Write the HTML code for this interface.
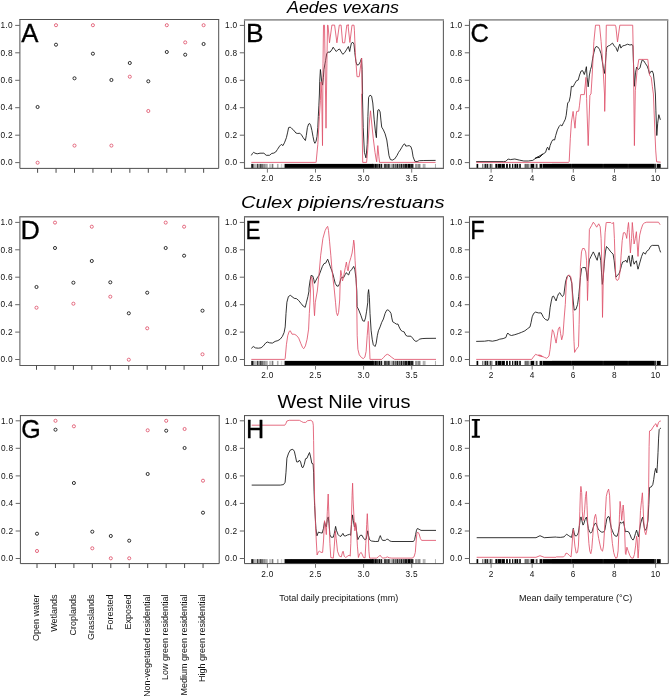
<!DOCTYPE html>
<html><head><meta charset="utf-8"><title>Figure</title>
<style>html,body{margin:0;padding:0;background:#fff;overflow:hidden}svg{display:block;will-change:transform}text{font-family:"Liberation Sans",sans-serif}.tk{letter-spacing:0.3px}</style></head>
<body>
<svg width="669" height="696" viewBox="0 0 669 696">
<rect x="0" y="0" width="669" height="696" fill="#fff"/>
<path d="M19.9,19.5 V168.4 H218.7 V19.5" fill="none" stroke="#505050" stroke-width="1.0"/>
<line x1="19.4" y1="19.5" x2="219.2" y2="19.5" stroke="#505050" stroke-width="1.0"/>
<line x1="15.2" y1="162.6" x2="19.9" y2="162.6" stroke="#666" stroke-width="1"/>
<text x="12.9" y="165.3" class="tk" font-size="8.3" text-anchor="end" fill="#111">0.0</text>
<line x1="15.2" y1="135.2" x2="19.9" y2="135.2" stroke="#666" stroke-width="1"/>
<text x="12.9" y="137.9" class="tk" font-size="8.3" text-anchor="end" fill="#111">0.2</text>
<line x1="15.2" y1="107.7" x2="19.9" y2="107.7" stroke="#666" stroke-width="1"/>
<text x="12.9" y="110.4" class="tk" font-size="8.3" text-anchor="end" fill="#111">0.4</text>
<line x1="15.2" y1="80.3" x2="19.9" y2="80.3" stroke="#666" stroke-width="1"/>
<text x="12.9" y="83.0" class="tk" font-size="8.3" text-anchor="end" fill="#111">0.6</text>
<line x1="15.2" y1="52.8" x2="19.9" y2="52.8" stroke="#666" stroke-width="1"/>
<text x="12.9" y="55.5" class="tk" font-size="8.3" text-anchor="end" fill="#111">0.8</text>
<line x1="15.2" y1="25.4" x2="19.9" y2="25.4" stroke="#666" stroke-width="1"/>
<text x="12.9" y="28.1" class="tk" font-size="8.3" text-anchor="end" fill="#111">1.0</text>
<line x1="37.60" y1="168.4" x2="37.60" y2="172.8" stroke="#4a4a4a" stroke-width="1"/>
<line x1="56.05" y1="168.4" x2="56.05" y2="172.8" stroke="#4a4a4a" stroke-width="1"/>
<line x1="74.50" y1="168.4" x2="74.50" y2="172.8" stroke="#4a4a4a" stroke-width="1"/>
<line x1="92.95" y1="168.4" x2="92.95" y2="172.8" stroke="#4a4a4a" stroke-width="1"/>
<line x1="111.40" y1="168.4" x2="111.40" y2="172.8" stroke="#4a4a4a" stroke-width="1"/>
<line x1="129.85" y1="168.4" x2="129.85" y2="172.8" stroke="#4a4a4a" stroke-width="1"/>
<line x1="148.30" y1="168.4" x2="148.30" y2="172.8" stroke="#4a4a4a" stroke-width="1"/>
<line x1="166.75" y1="168.4" x2="166.75" y2="172.8" stroke="#4a4a4a" stroke-width="1"/>
<line x1="185.20" y1="168.4" x2="185.20" y2="172.8" stroke="#4a4a4a" stroke-width="1"/>
<line x1="203.65" y1="168.4" x2="203.65" y2="172.8" stroke="#4a4a4a" stroke-width="1"/>
<text transform="translate(21.30,41.6) scale(0.98,1)" font-size="26.3" fill="#000" stroke="#000" stroke-width="0.3">A</text>
<rect x="251.29" y="163.9" width="1.64" height="4.5" fill="rgb(0,0,0)"/><rect x="252.93" y="163.9" width="1.64" height="4.5" fill="rgb(120,120,120)"/><rect x="254.58" y="163.9" width="1.97" height="4.5" fill="rgb(185,185,185)"/><rect x="256.88" y="163.9" width="0.99" height="4.5" fill="rgb(20,20,20)"/><rect x="257.87" y="163.9" width="1.97" height="4.5" fill="rgb(150,150,150)"/><rect x="259.84" y="163.9" width="0.99" height="4.5" fill="rgb(20,20,20)"/><rect x="260.83" y="163.9" width="2.30" height="4.5" fill="rgb(110,110,110)"/><rect x="263.13" y="163.9" width="2.63" height="4.5" fill="rgb(140,140,140)"/><rect x="265.76" y="163.9" width="1.97" height="4.5" fill="rgb(170,170,170)"/><rect x="269.05" y="163.9" width="1.64" height="4.5" fill="rgb(200,200,200)"/><rect x="270.70" y="163.9" width="0.46" height="4.5" fill="rgb(150,150,150)"/><rect x="271.55" y="163.9" width="0.46" height="4.5" fill="rgb(170,170,170)"/><rect x="272.01" y="163.9" width="1.32" height="4.5" fill="rgb(120,120,120)"/><rect x="276.95" y="163.9" width="0.99" height="4.5" fill="rgb(170,170,170)"/><rect x="278.26" y="163.9" width="0.66" height="4.5" fill="rgb(190,190,190)"/><rect x="280.89" y="163.9" width="0.53" height="4.5" fill="rgb(170,170,170)"/><rect x="281.68" y="163.9" width="0.53" height="4.5" fill="rgb(190,190,190)"/><rect x="283.86" y="163.9" width="0.99" height="4.5" fill="rgb(150,150,150)"/><rect x="284.84" y="163.9" width="7.17" height="4.5" fill="rgb(0,0,0)"/><rect x="291.9" y="163.9" width="81" height="4.5" fill="#000"/><rect x="372.00" y="163.9" width="1.94" height="4.5" fill="rgb(0,0,0)"/><rect x="374.26" y="163.9" width="2.58" height="4.5" fill="rgb(0,0,0)"/><rect x="377.17" y="163.9" width="1.51" height="4.5" fill="rgb(10,10,10)"/><rect x="379.00" y="163.9" width="1.40" height="4.5" fill="rgb(0,0,0)"/><rect x="380.72" y="163.9" width="1.51" height="4.5" fill="rgb(20,20,20)"/><rect x="383.84" y="163.9" width="2.15" height="4.5" fill="rgb(60,60,60)"/><rect x="386.32" y="163.9" width="1.29" height="4.5" fill="rgb(20,20,20)"/><rect x="387.93" y="163.9" width="1.83" height="4.5" fill="rgb(50,50,50)"/><rect x="390.30" y="163.9" width="1.94" height="4.5" fill="rgb(170,170,170)"/><rect x="392.45" y="163.9" width="1.61" height="4.5" fill="rgb(70,70,70)"/><rect x="394.39" y="163.9" width="2.37" height="4.5" fill="rgb(90,90,90)"/><rect x="396.97" y="163.9" width="1.40" height="4.5" fill="rgb(30,30,30)"/><rect x="398.70" y="163.9" width="1.51" height="4.5" fill="rgb(70,70,70)"/><rect x="400.53" y="163.9" width="1.61" height="4.5" fill="rgb(20,20,20)"/><rect x="402.46" y="163.9" width="1.61" height="4.5" fill="rgb(60,60,60)"/><rect x="404.29" y="163.9" width="3.23" height="4.5" fill="rgb(20,20,20)"/><rect x="407.74" y="163.9" width="3.01" height="4.5" fill="rgb(0,0,0)"/><rect x="410.97" y="163.9" width="2.48" height="4.5" fill="rgb(30,30,30)"/><rect x="415.06" y="163.9" width="2.69" height="4.5" fill="rgb(150,150,150)"/><rect x="418.07" y="163.9" width="2.37" height="4.5" fill="rgb(130,130,130)"/><rect x="422.81" y="163.9" width="0.86" height="4.5" fill="rgb(140,140,140)"/><rect x="424.31" y="163.9" width="1.08" height="4.5" fill="rgb(150,150,150)"/><rect x="434.97" y="163.9" width="0.75" height="4.5" fill="rgb(150,150,150)"/>
<path d="M251.3,155.4 L252.5,153.4 L253.6,152.3 L255.0,153.2 L257.2,153.8 L260.0,153.2 L263.9,153.2 L266.2,155.3 L269.5,155.3 L271.8,153.4 L273.8,153.1 L275.7,152.0 L277.4,149.5 L279.6,146.1 L281.3,144.4 L283.0,145.6 L284.7,142.2 L286.4,137.7 L287.7,132.1 L288.6,127.6 L290.3,127.1 L292.0,128.8 L293.6,130.1 L295.9,133.0 L297.8,133.5 L299.8,133.2 L301.5,134.9 L303.2,137.7 L304.9,140.0 L305.4,140.5 L306.3,135.5 L307.4,127.6 L308.6,124.0 L309.6,123.4 L310.7,125.4 L311.9,130.4 L313.0,136.6 L314.1,141.7 L314.9,143.3 L316.1,141.1 L317.0,136.6 L317.8,127.6 L318.3,116.4 L318.9,105.2 L319.4,94.0 L319.7,81.8 L320.4,69.5 L321.0,75.0 L321.7,81.8 L322.6,85.1 L323.4,77.3 L323.9,69.5 L325.6,60.5 L326.7,53.8 L327.9,52.1 L330.1,52.1 L331.8,49.8 L333.2,47.2 L334.6,49.3 L336.3,51.5 L337.9,49.8 L339.6,49.0 L341.3,52.1 L342.8,54.3 L344.7,52.6 L346.4,49.8 L348.4,46.5 L349.7,51.5 L350.3,48.1 L351.4,43.1 L352.9,42.3 L354.0,44.2 L354.8,52.6 L355.9,61.6 L357.0,65.0 L358.7,64.7 L360.4,61.6 L361.5,58.2 L362.1,69.5 L362.6,94.0 L362.4,94.0 L363.2,127.6 L364.4,152.3 L366.0,157.9 L367.2,144.4 L367.9,116.4 L368.6,97.4 L370.0,95.1 L371.6,96.2 L372.8,103.0 L374.2,119.8 L375.6,133.2 L376.4,137.7 L377.0,122.0 L377.8,110.3 L378.9,109.5 L380.1,111.9 L381.0,120.9 L381.7,127.1 L383.4,129.9 L385.1,133.8 L386.8,140.0 L387.9,147.8 L389.0,155.7 L390.4,159.6 L392.4,160.1 L394.6,159.0 L396.9,155.7 L398.6,152.3 L400.2,150.1 L401.9,147.2 L403.6,144.4 L404.7,143.9 L405.8,146.1 L407.5,145.9 L409.2,145.6 L410.9,146.7 L412.0,150.1 L413.1,156.8 L414.8,161.3 L417.1,161.6 L419.3,160.7 L423.8,160.5 L435.6,160.4" fill="none" stroke="#111" stroke-width="0.85" stroke-linejoin="round" stroke-linecap="butt"/>
<path d="M251.3,162.4 L315.5,162.4 L316.1,162.4 L317.8,144.4 L319.4,116.4 L320.4,100.7 L321.0,81.8 L321.7,94.0 L322.5,145.6 L323.0,63.8 L323.5,25.2 L324.5,25.2 L325.1,63.8 L326.0,128.2 L326.9,63.8 L327.5,25.2 L328.0,25.1 L329.5,42.8 L331.9,25.1 L334.6,25.1 L336.9,42.8 L339.3,25.1 L341.1,25.1 L342.6,42.8 L344.7,42.8 L346.8,25.1 L348.9,25.1 L348.0,25.2 L349.9,42.5 L352.0,25.2 L354.0,25.2 L354.4,30.2 L355.3,52.6 L357.0,76.7 L359.2,76.7 L360.9,63.8 L361.7,58.2 L362.1,94.0 L361.6,94.0 L362.7,162.4 L366.6,162.4 L367.7,150.1 L369.4,122.0 L370.5,110.8 L371.6,122.0 L373.3,138.8 L375.0,152.3 L376.1,159.0 L376.7,161.8 L377.8,145.6 L378.9,156.8 L379.5,162.4 L435.6,162.4" fill="none" stroke="#df536b" stroke-width="0.85" stroke-linejoin="round" stroke-linecap="butt"/>
<path d="M244.5,19.8 V168.4 H443.4 V19.8" fill="none" stroke="#606060" stroke-width="1.1"/>
<line x1="243.95" y1="19.8" x2="443.95" y2="19.8" stroke="#989898" stroke-width="1.8"/>
<line x1="239.8" y1="162.6" x2="244.5" y2="162.6" stroke="#666" stroke-width="1"/>
<text x="237.5" y="165.3" class="tk" font-size="8.3" text-anchor="end" fill="#111">0.0</text>
<line x1="239.8" y1="135.2" x2="244.5" y2="135.2" stroke="#666" stroke-width="1"/>
<text x="237.5" y="137.9" class="tk" font-size="8.3" text-anchor="end" fill="#111">0.2</text>
<line x1="239.8" y1="107.7" x2="244.5" y2="107.7" stroke="#666" stroke-width="1"/>
<text x="237.5" y="110.4" class="tk" font-size="8.3" text-anchor="end" fill="#111">0.4</text>
<line x1="239.8" y1="80.3" x2="244.5" y2="80.3" stroke="#666" stroke-width="1"/>
<text x="237.5" y="83.0" class="tk" font-size="8.3" text-anchor="end" fill="#111">0.6</text>
<line x1="239.8" y1="52.8" x2="244.5" y2="52.8" stroke="#666" stroke-width="1"/>
<text x="237.5" y="55.5" class="tk" font-size="8.3" text-anchor="end" fill="#111">0.8</text>
<line x1="239.8" y1="25.4" x2="244.5" y2="25.4" stroke="#666" stroke-width="1"/>
<text x="237.5" y="28.1" class="tk" font-size="8.3" text-anchor="end" fill="#111">1.0</text>
<line x1="267.4" y1="168.4" x2="267.4" y2="172.6" stroke="#777" stroke-width="1"/>
<text x="267.4" y="181.3" class="tk" font-size="8.3" text-anchor="middle" fill="#111">2.0</text>
<line x1="315.5" y1="168.4" x2="315.5" y2="172.6" stroke="#777" stroke-width="1"/>
<text x="315.5" y="181.3" class="tk" font-size="8.3" text-anchor="middle" fill="#111">2.5</text>
<line x1="363.6" y1="168.4" x2="363.6" y2="172.6" stroke="#777" stroke-width="1"/>
<text x="363.6" y="181.3" class="tk" font-size="8.3" text-anchor="middle" fill="#111">3.0</text>
<line x1="411.7" y1="168.4" x2="411.7" y2="172.6" stroke="#777" stroke-width="1"/>
<text x="411.7" y="181.3" class="tk" font-size="8.3" text-anchor="middle" fill="#111">3.5</text>
<text transform="translate(245.90,41.6) scale(1.0,1)" font-size="26.3" fill="#000" stroke="#000" stroke-width="0.3">B</text>
<rect x="476.55" y="163.9" width="1.67" height="4.5" fill="rgb(0,0,0)"/><rect x="482.17" y="163.9" width="1.20" height="4.5" fill="rgb(100,100,100)"/><rect x="483.36" y="163.9" width="1.20" height="4.5" fill="rgb(200,200,200)"/><rect x="484.56" y="163.9" width="1.56" height="4.5" fill="rgb(30,30,30)"/><rect x="486.11" y="163.9" width="0.48" height="4.5" fill="rgb(150,150,150)"/><rect x="486.59" y="163.9" width="1.56" height="4.5" fill="rgb(30,30,30)"/><rect x="488.15" y="163.9" width="1.79" height="4.5" fill="rgb(185,185,185)"/><rect x="489.94" y="163.9" width="0.96" height="4.5" fill="rgb(40,40,40)"/><rect x="490.90" y="163.9" width="0.60" height="4.5" fill="rgb(150,150,150)"/><rect x="491.50" y="163.9" width="0.84" height="4.5" fill="rgb(60,60,60)"/><rect x="495.33" y="163.9" width="2.15" height="4.5" fill="rgb(0,0,0)"/><rect x="497.48" y="163.9" width="0.48" height="4.5" fill="rgb(120,120,120)"/><rect x="497.96" y="163.9" width="3.11" height="4.5" fill="rgb(0,0,0)"/><rect x="501.07" y="163.9" width="0.48" height="4.5" fill="rgb(120,120,120)"/><rect x="501.55" y="163.9" width="3.35" height="4.5" fill="rgb(0,0,0)"/><rect x="506.09" y="163.9" width="1.79" height="4.5" fill="rgb(0,0,0)"/><rect x="509.08" y="163.9" width="1.44" height="4.5" fill="rgb(0,0,0)"/><rect x="512.07" y="163.9" width="1.20" height="4.5" fill="rgb(0,0,0)"/><rect x="514.46" y="163.9" width="1.56" height="4.5" fill="rgb(0,0,0)"/><rect x="516.02" y="163.9" width="0.48" height="4.5" fill="rgb(130,130,130)"/><rect x="516.50" y="163.9" width="1.56" height="4.5" fill="rgb(0,0,0)"/><rect x="518.05" y="163.9" width="1.20" height="4.5" fill="rgb(200,200,200)"/><rect x="519.25" y="163.9" width="1.56" height="4.5" fill="rgb(0,0,0)"/><rect x="524.63" y="163.9" width="1.20" height="4.5" fill="rgb(60,60,60)"/><rect x="525.83" y="163.9" width="0.60" height="4.5" fill="rgb(150,150,150)"/><rect x="526.43" y="163.9" width="1.20" height="4.5" fill="rgb(50,50,50)"/><rect x="527.62" y="163.9" width="1.20" height="4.5" fill="rgb(90,90,90)"/><rect x="528.82" y="163.9" width="1.79" height="4.5" fill="rgb(200,200,200)"/><rect x="530.61" y="163.9" width="3.59" height="4.5" fill="rgb(0,0,0)"/><rect x="534.20" y="163.9" width="1.79" height="4.5" fill="rgb(190,190,190)"/><rect x="536.00" y="163.9" width="1.56" height="4.5" fill="rgb(70,70,70)"/><rect x="539.58" y="163.9" width="2.75" height="4.5" fill="rgb(0,0,0)"/><rect x="542.33" y="163.9" width="0.48" height="4.5" fill="rgb(120,120,120)"/><rect x="542.81" y="163.9" width="9.21" height="4.5" fill="rgb(0,0,0)"/><rect x="552" y="163.9" width="104" height="4.5" fill="#2a2a2a"/><rect x="552" y="163.9" width="19.2" height="4.5" fill="#000"/><rect x="571.8" y="163.9" width="31" height="4.5" fill="#000"/><rect x="603.4" y="163.9" width="24.4" height="4.5" fill="#000"/><rect x="628.4" y="163.9" width="25.6" height="4.5" fill="#000"/><rect x="654.4" y="163.9" width="1.8" height="4.5" fill="#333"/><rect x="656.8" y="163.9" width="3.9" height="4.5" fill="#000"/>
<path d="M476.2,161.6 L503.6,161.6 L505.9,161.3 L508.1,159.0 L510.4,159.6 L514.8,159.0 L519.3,160.1 L523.8,161.0 L528.3,161.0 L532.8,160.4 L536.1,157.9 L539.5,157.3 L542.9,154.0 L535.0,158.5 L537.2,157.3 L539.5,157.3 L541.7,155.1 L544.0,153.4 L545.6,152.3 L546.8,148.4 L547.6,147.2 L549.0,150.1 L550.1,145.6 L551.6,141.7 L552.9,139.7 L554.6,140.0 L555.7,135.5 L557.4,129.9 L559.1,126.5 L560.6,124.8 L561.9,126.0 L563.6,122.6 L565.3,119.2 L566.2,115.3 L567.0,108.6 L567.7,103.0 L569.2,101.3 L570.3,96.2 L571.4,86.3 L573.1,86.8 L574.8,83.5 L576.5,80.7 L578.2,80.1 L579.6,75.0 L581.0,71.1 L582.6,70.6 L584.3,74.5 L585.5,70.6 L586.4,66.7 L587.1,77.3 L588.2,86.8 L589.4,75.0 L590.5,69.5 L591.6,66.1 L592.7,58.2 L593.9,52.6 L595.0,48.1 L596.1,46.5 L597.8,47.0 L599.5,49.3 L601.1,53.8 L602.3,61.6 L603.4,68.3 L604.5,73.4 L605.4,63.8 L606.2,52.6 L606.8,47.0 L608.4,45.9 L609.7,45.4 L612.5,43.1 L614.2,45.9 L615.9,47.6 L617.5,51.5 L618.7,47.0 L619.8,44.2 L620.9,48.1 L622.6,45.9 L624.8,45.4 L627.6,44.2 L629.9,45.0 L632.1,44.6 L632.9,45.9 L633.5,63.8 L634.4,86.3 L635.5,72.8 L636.6,67.2 L638.3,69.5 L640.0,67.8 L641.1,63.3 L642.2,59.9 L643.9,61.0 L645.6,63.8 L647.2,66.1 L648.4,69.5 L649.5,73.9 L650.6,71.7 L652.3,71.1 L653.4,73.9 L654.5,84.0 L655.4,94.0 L655.9,110.8 L656.8,135.5 L657.7,123.2 L658.8,114.7 L660.4,119.8" fill="none" stroke="#111" stroke-width="0.85" stroke-linejoin="round" stroke-linecap="butt"/>
<path d="M476.2,162.4 L568.6,162.4 L569.2,161.3 L570.3,138.8 L571.4,122.0 L573.1,111.4 L574.0,119.8 L575.0,128.2 L575.9,116.4 L576.7,111.4 L578.7,111.2 L579.5,105.2 L580.7,94.6 L584.3,94.6 L586.0,77.3 L586.6,98.5 L588.2,145.6 L589.9,95.1 L591.0,94.0 L592.2,75.0 L593.9,41.4 L595.5,25.2 L599.5,25.2 L601.1,41.4 L602.8,63.8 L604.5,94.0 L604.7,111.4 L605.2,94.0 L606.3,25.2 L615.3,25.2 L615.9,26.9 L617.5,42.0 L619.8,25.2 L632.7,25.2 L633.5,63.8 L634.4,145.6 L635.3,90.8 L637.2,69.5 L638.8,59.4 L647.8,59.4 L649.5,75.0 L651.2,77.3 L652.3,86.3 L653.4,94.0 L654.5,122.0 L655.7,150.1 L656.6,161.8 L660.7,162.2" fill="none" stroke="#df536b" stroke-width="0.85" stroke-linejoin="round" stroke-linecap="butt"/>
<path d="M469.5,19.8 V168.4 H667.7 V19.8" fill="none" stroke="#606060" stroke-width="1.1"/>
<line x1="468.95" y1="19.8" x2="668.25" y2="19.8" stroke="#989898" stroke-width="1.8"/>
<line x1="464.8" y1="162.6" x2="469.5" y2="162.6" stroke="#666" stroke-width="1"/>
<text x="462.5" y="165.3" class="tk" font-size="8.3" text-anchor="end" fill="#111">0.0</text>
<line x1="464.8" y1="135.2" x2="469.5" y2="135.2" stroke="#666" stroke-width="1"/>
<text x="462.5" y="137.9" class="tk" font-size="8.3" text-anchor="end" fill="#111">0.2</text>
<line x1="464.8" y1="107.7" x2="469.5" y2="107.7" stroke="#666" stroke-width="1"/>
<text x="462.5" y="110.4" class="tk" font-size="8.3" text-anchor="end" fill="#111">0.4</text>
<line x1="464.8" y1="80.3" x2="469.5" y2="80.3" stroke="#666" stroke-width="1"/>
<text x="462.5" y="83.0" class="tk" font-size="8.3" text-anchor="end" fill="#111">0.6</text>
<line x1="464.8" y1="52.8" x2="469.5" y2="52.8" stroke="#666" stroke-width="1"/>
<text x="462.5" y="55.5" class="tk" font-size="8.3" text-anchor="end" fill="#111">0.8</text>
<line x1="464.8" y1="25.4" x2="469.5" y2="25.4" stroke="#666" stroke-width="1"/>
<text x="462.5" y="28.1" class="tk" font-size="8.3" text-anchor="end" fill="#111">1.0</text>
<line x1="491.1" y1="168.4" x2="491.1" y2="172.6" stroke="#777" stroke-width="1"/>
<text x="491.1" y="181.3" class="tk" font-size="8.3" text-anchor="middle" fill="#111">2</text>
<line x1="532.2" y1="168.4" x2="532.2" y2="172.6" stroke="#777" stroke-width="1"/>
<text x="532.2" y="181.3" class="tk" font-size="8.3" text-anchor="middle" fill="#111">4</text>
<line x1="573.3" y1="168.4" x2="573.3" y2="172.6" stroke="#777" stroke-width="1"/>
<text x="573.3" y="181.3" class="tk" font-size="8.3" text-anchor="middle" fill="#111">6</text>
<line x1="614.5" y1="168.4" x2="614.5" y2="172.6" stroke="#777" stroke-width="1"/>
<text x="614.5" y="181.3" class="tk" font-size="8.3" text-anchor="middle" fill="#111">8</text>
<line x1="655.6" y1="168.4" x2="655.6" y2="172.6" stroke="#777" stroke-width="1"/>
<text x="655.6" y="181.3" class="tk" font-size="8.3" text-anchor="middle" fill="#111">10</text>
<text transform="translate(470.50,41.6) scale(0.97,1)" font-size="26.3" fill="#000" stroke="#000" stroke-width="0.3">C</text>
<path d="M19.9,216.7 V365.4 H218.7 V216.7" fill="none" stroke="#5a5a5a" stroke-width="1.05"/>
<line x1="19.375" y1="216.7" x2="219.225" y2="216.7" stroke="#777" stroke-width="1.35"/>
<line x1="15.2" y1="359.5" x2="19.9" y2="359.5" stroke="#666" stroke-width="1"/>
<text x="12.9" y="362.2" class="tk" font-size="8.3" text-anchor="end" fill="#111">0.0</text>
<line x1="15.2" y1="332.1" x2="19.9" y2="332.1" stroke="#666" stroke-width="1"/>
<text x="12.9" y="334.8" class="tk" font-size="8.3" text-anchor="end" fill="#111">0.2</text>
<line x1="15.2" y1="304.7" x2="19.9" y2="304.7" stroke="#666" stroke-width="1"/>
<text x="12.9" y="307.4" class="tk" font-size="8.3" text-anchor="end" fill="#111">0.4</text>
<line x1="15.2" y1="277.2" x2="19.9" y2="277.2" stroke="#666" stroke-width="1"/>
<text x="12.9" y="279.9" class="tk" font-size="8.3" text-anchor="end" fill="#111">0.6</text>
<line x1="15.2" y1="249.8" x2="19.9" y2="249.8" stroke="#666" stroke-width="1"/>
<text x="12.9" y="252.5" class="tk" font-size="8.3" text-anchor="end" fill="#111">0.8</text>
<line x1="15.2" y1="222.4" x2="19.9" y2="222.4" stroke="#666" stroke-width="1"/>
<text x="12.9" y="225.1" class="tk" font-size="8.3" text-anchor="end" fill="#111">1.0</text>
<line x1="36.50" y1="365.4" x2="36.50" y2="369.79999999999995" stroke="#4a4a4a" stroke-width="1"/>
<line x1="54.95" y1="365.4" x2="54.95" y2="369.79999999999995" stroke="#4a4a4a" stroke-width="1"/>
<line x1="73.40" y1="365.4" x2="73.40" y2="369.79999999999995" stroke="#4a4a4a" stroke-width="1"/>
<line x1="91.85" y1="365.4" x2="91.85" y2="369.79999999999995" stroke="#4a4a4a" stroke-width="1"/>
<line x1="110.30" y1="365.4" x2="110.30" y2="369.79999999999995" stroke="#4a4a4a" stroke-width="1"/>
<line x1="128.75" y1="365.4" x2="128.75" y2="369.79999999999995" stroke="#4a4a4a" stroke-width="1"/>
<line x1="147.20" y1="365.4" x2="147.20" y2="369.79999999999995" stroke="#4a4a4a" stroke-width="1"/>
<line x1="165.65" y1="365.4" x2="165.65" y2="369.79999999999995" stroke="#4a4a4a" stroke-width="1"/>
<line x1="184.10" y1="365.4" x2="184.10" y2="369.79999999999995" stroke="#4a4a4a" stroke-width="1"/>
<line x1="202.55" y1="365.4" x2="202.55" y2="369.79999999999995" stroke="#4a4a4a" stroke-width="1"/>
<text transform="translate(20.40,238.7) scale(1.02,1)" font-size="26.3" fill="#000" stroke="#000" stroke-width="0.3">D</text>
<rect x="251.29" y="360.9" width="1.64" height="4.5" fill="rgb(0,0,0)"/><rect x="252.93" y="360.9" width="1.64" height="4.5" fill="rgb(120,120,120)"/><rect x="254.58" y="360.9" width="1.97" height="4.5" fill="rgb(185,185,185)"/><rect x="256.88" y="360.9" width="0.99" height="4.5" fill="rgb(20,20,20)"/><rect x="257.87" y="360.9" width="1.97" height="4.5" fill="rgb(150,150,150)"/><rect x="259.84" y="360.9" width="0.99" height="4.5" fill="rgb(20,20,20)"/><rect x="260.83" y="360.9" width="2.30" height="4.5" fill="rgb(110,110,110)"/><rect x="263.13" y="360.9" width="2.63" height="4.5" fill="rgb(140,140,140)"/><rect x="265.76" y="360.9" width="1.97" height="4.5" fill="rgb(170,170,170)"/><rect x="269.05" y="360.9" width="1.64" height="4.5" fill="rgb(200,200,200)"/><rect x="270.70" y="360.9" width="0.46" height="4.5" fill="rgb(150,150,150)"/><rect x="271.55" y="360.9" width="0.46" height="4.5" fill="rgb(170,170,170)"/><rect x="272.01" y="360.9" width="1.32" height="4.5" fill="rgb(120,120,120)"/><rect x="276.95" y="360.9" width="0.99" height="4.5" fill="rgb(170,170,170)"/><rect x="278.26" y="360.9" width="0.66" height="4.5" fill="rgb(190,190,190)"/><rect x="280.89" y="360.9" width="0.53" height="4.5" fill="rgb(170,170,170)"/><rect x="281.68" y="360.9" width="0.53" height="4.5" fill="rgb(190,190,190)"/><rect x="283.86" y="360.9" width="0.99" height="4.5" fill="rgb(150,150,150)"/><rect x="284.84" y="360.9" width="7.17" height="4.5" fill="rgb(0,0,0)"/><rect x="291.9" y="360.9" width="81" height="4.5" fill="#000"/><rect x="372.00" y="360.9" width="1.94" height="4.5" fill="rgb(0,0,0)"/><rect x="374.26" y="360.9" width="2.58" height="4.5" fill="rgb(0,0,0)"/><rect x="377.17" y="360.9" width="1.51" height="4.5" fill="rgb(10,10,10)"/><rect x="379.00" y="360.9" width="1.40" height="4.5" fill="rgb(0,0,0)"/><rect x="380.72" y="360.9" width="1.51" height="4.5" fill="rgb(20,20,20)"/><rect x="383.84" y="360.9" width="2.15" height="4.5" fill="rgb(60,60,60)"/><rect x="386.32" y="360.9" width="1.29" height="4.5" fill="rgb(20,20,20)"/><rect x="387.93" y="360.9" width="1.83" height="4.5" fill="rgb(50,50,50)"/><rect x="390.30" y="360.9" width="1.94" height="4.5" fill="rgb(170,170,170)"/><rect x="392.45" y="360.9" width="1.61" height="4.5" fill="rgb(70,70,70)"/><rect x="394.39" y="360.9" width="2.37" height="4.5" fill="rgb(90,90,90)"/><rect x="396.97" y="360.9" width="1.40" height="4.5" fill="rgb(30,30,30)"/><rect x="398.70" y="360.9" width="1.51" height="4.5" fill="rgb(70,70,70)"/><rect x="400.53" y="360.9" width="1.61" height="4.5" fill="rgb(20,20,20)"/><rect x="402.46" y="360.9" width="1.61" height="4.5" fill="rgb(60,60,60)"/><rect x="404.29" y="360.9" width="3.23" height="4.5" fill="rgb(20,20,20)"/><rect x="407.74" y="360.9" width="3.01" height="4.5" fill="rgb(0,0,0)"/><rect x="410.97" y="360.9" width="2.48" height="4.5" fill="rgb(30,30,30)"/><rect x="415.06" y="360.9" width="2.69" height="4.5" fill="rgb(150,150,150)"/><rect x="418.07" y="360.9" width="2.37" height="4.5" fill="rgb(130,130,130)"/><rect x="422.81" y="360.9" width="0.86" height="4.5" fill="rgb(140,140,140)"/><rect x="424.31" y="360.9" width="1.08" height="4.5" fill="rgb(150,150,150)"/><rect x="434.97" y="360.9" width="0.75" height="4.5" fill="rgb(150,150,150)"/>
<path d="M251.3,348.4 L253.3,346.5 L255.5,347.9 L258.3,348.2 L261.1,347.8 L263.4,345.9 L265.6,343.1 L267.3,342.0 L269.5,342.8 L272.4,343.1 L275.1,341.4 L277.9,340.6 L280.2,339.2 L282.4,336.4 L284.1,332.5 L285.2,326.9 L286.0,313.4 L286.9,302.2 L288.4,296.6 L290.3,295.3 L292.0,296.6 L294.2,298.3 L296.4,298.6 L298.7,300.5 L300.9,303.3 L303.2,306.1 L305.2,307.3 L306.5,302.2 L307.9,296.6 L309.0,291.0 L308.9,288.9 L310.0,281.0 L311.1,275.4 L312.8,276.0 L313.9,279.9 L314.5,283.3 L315.6,281.0 L317.3,277.7 L319.0,275.4 L320.7,270.9 L322.4,266.4 L324.0,263.6 L325.7,263.1 L326.8,260.8 L327.7,259.2 L328.7,262.0 L330.2,266.4 L331.9,270.9 L333.0,274.3 L334.1,278.8 L335.2,283.3 L336.9,286.1 L338.4,286.1 L339.7,283.3 L340.8,278.8 L342.0,277.1 L343.6,277.7 L345.3,274.3 L346.4,272.6 L347.6,274.3 L348.7,274.9 L349.8,271.5 L351.5,269.8 L352.6,268.1 L353.7,266.4 L354.9,269.8 L356.0,278.8 L356.8,291.0 L357.1,306.7 L358.8,310.1 L361.0,315.7 L362.7,320.7 L364.4,321.3 L365.5,317.9 L366.6,311.2 L367.8,302.2 L367.9,294.4 L368.6,289.6 L369.4,297.7 L370.0,313.4 L371.1,330.2 L372.2,339.2 L373.3,344.8 L375.0,346.5 L376.1,343.7 L377.3,335.8 L378.4,330.8 L380.1,326.9 L381.7,322.4 L383.4,319.0 L385.1,313.4 L386.6,310.3 L387.9,309.8 L389.6,311.2 L391.0,313.4 L391.8,317.9 L392.7,321.8 L394.6,322.9 L396.3,324.1 L398.0,324.1 L399.1,326.9 L400.8,330.2 L402.5,331.4 L404.2,331.9 L405.8,335.3 L407.5,336.2 L410.9,336.2 L412.6,338.1 L414.2,340.3 L415.9,341.4 L417.6,340.9 L419.3,339.2 L422.1,338.6 L426.0,338.4 L436.0,338.3" fill="none" stroke="#111" stroke-width="0.85" stroke-linejoin="round" stroke-linecap="butt"/>
<path d="M251.3,359.4 L284.7,359.4 L285.2,358.3 L286.4,344.8 L287.7,335.8 L289.2,331.4 L290.3,330.8 L292.0,334.2 L294.2,334.2 L296.4,335.3 L298.7,338.1 L300.9,343.7 L302.6,347.6 L303.7,348.7 L305.4,345.9 L307.1,339.2 L308.6,329.1 L309.3,313.4 L310.1,300.0 L311.1,276.5 L312.3,278.8 L313.4,291.0 L313.7,302.2 L314.5,315.7 L315.3,302.2 L317.3,291.0 L319.0,274.3 L320.7,255.2 L322.9,238.4 L325.1,230.6 L326.8,227.2 L327.7,226.4 L328.5,230.6 L329.6,241.8 L330.8,255.2 L331.9,268.7 L333.0,278.8 L334.1,287.8 L335.5,302.2 L336.4,312.3 L337.5,315.7 L338.6,312.3 L339.7,300.0 L340.3,277.7 L340.8,270.4 L341.7,275.4 L342.5,281.0 L343.6,276.5 L345.3,267.6 L346.4,262.0 L347.4,268.7 L348.1,270.9 L349.2,263.1 L350.9,257.5 L352.1,253.0 L353.2,245.2 L353.7,240.1 L354.3,244.0 L355.1,260.8 L356.0,274.3 L356.5,291.0 L356.8,307.8 L357.2,335.8 L357.9,349.3 L359.3,354.9 L361.6,357.7 L363.3,358.6 L364.9,357.1 L366.1,351.5 L367.2,335.8 L368.3,321.3 L369.1,335.8 L370.0,359.4 L370.5,359.4 L381.7,359.4 L383.4,357.7 L385.7,355.1 L387.4,354.3 L389.0,355.1 L391.8,357.4 L394.6,359.4 L436.0,359.4" fill="none" stroke="#df536b" stroke-width="0.85" stroke-linejoin="round" stroke-linecap="butt"/>
<path d="M244.5,216.7 V365.4 H443.4 V216.7" fill="none" stroke="#5a5a5a" stroke-width="1.05"/>
<line x1="243.975" y1="216.7" x2="443.92499999999995" y2="216.7" stroke="#777" stroke-width="1.35"/>
<line x1="239.8" y1="359.5" x2="244.5" y2="359.5" stroke="#666" stroke-width="1"/>
<text x="237.5" y="362.2" class="tk" font-size="8.3" text-anchor="end" fill="#111">0.0</text>
<line x1="239.8" y1="332.1" x2="244.5" y2="332.1" stroke="#666" stroke-width="1"/>
<text x="237.5" y="334.8" class="tk" font-size="8.3" text-anchor="end" fill="#111">0.2</text>
<line x1="239.8" y1="304.7" x2="244.5" y2="304.7" stroke="#666" stroke-width="1"/>
<text x="237.5" y="307.4" class="tk" font-size="8.3" text-anchor="end" fill="#111">0.4</text>
<line x1="239.8" y1="277.2" x2="244.5" y2="277.2" stroke="#666" stroke-width="1"/>
<text x="237.5" y="279.9" class="tk" font-size="8.3" text-anchor="end" fill="#111">0.6</text>
<line x1="239.8" y1="249.8" x2="244.5" y2="249.8" stroke="#666" stroke-width="1"/>
<text x="237.5" y="252.5" class="tk" font-size="8.3" text-anchor="end" fill="#111">0.8</text>
<line x1="239.8" y1="222.4" x2="244.5" y2="222.4" stroke="#666" stroke-width="1"/>
<text x="237.5" y="225.1" class="tk" font-size="8.3" text-anchor="end" fill="#111">1.0</text>
<line x1="267.4" y1="365.4" x2="267.4" y2="369.59999999999997" stroke="#777" stroke-width="1"/>
<text x="267.4" y="378.3" class="tk" font-size="8.3" text-anchor="middle" fill="#111">2.0</text>
<line x1="315.5" y1="365.4" x2="315.5" y2="369.59999999999997" stroke="#777" stroke-width="1"/>
<text x="315.5" y="378.3" class="tk" font-size="8.3" text-anchor="middle" fill="#111">2.5</text>
<line x1="363.6" y1="365.4" x2="363.6" y2="369.59999999999997" stroke="#777" stroke-width="1"/>
<text x="363.6" y="378.3" class="tk" font-size="8.3" text-anchor="middle" fill="#111">3.0</text>
<line x1="411.7" y1="365.4" x2="411.7" y2="369.59999999999997" stroke="#777" stroke-width="1"/>
<text x="411.7" y="378.3" class="tk" font-size="8.3" text-anchor="middle" fill="#111">3.5</text>
<text transform="translate(245.55,238.7) scale(0.86,1)" font-size="26.3" fill="#000" stroke="#000" stroke-width="0.3">E</text>
<rect x="476.55" y="360.9" width="1.67" height="4.5" fill="rgb(0,0,0)"/><rect x="482.17" y="360.9" width="1.20" height="4.5" fill="rgb(100,100,100)"/><rect x="483.36" y="360.9" width="1.20" height="4.5" fill="rgb(200,200,200)"/><rect x="484.56" y="360.9" width="1.56" height="4.5" fill="rgb(30,30,30)"/><rect x="486.11" y="360.9" width="0.48" height="4.5" fill="rgb(150,150,150)"/><rect x="486.59" y="360.9" width="1.56" height="4.5" fill="rgb(30,30,30)"/><rect x="488.15" y="360.9" width="1.79" height="4.5" fill="rgb(185,185,185)"/><rect x="489.94" y="360.9" width="0.96" height="4.5" fill="rgb(40,40,40)"/><rect x="490.90" y="360.9" width="0.60" height="4.5" fill="rgb(150,150,150)"/><rect x="491.50" y="360.9" width="0.84" height="4.5" fill="rgb(60,60,60)"/><rect x="495.33" y="360.9" width="2.15" height="4.5" fill="rgb(0,0,0)"/><rect x="497.48" y="360.9" width="0.48" height="4.5" fill="rgb(120,120,120)"/><rect x="497.96" y="360.9" width="3.11" height="4.5" fill="rgb(0,0,0)"/><rect x="501.07" y="360.9" width="0.48" height="4.5" fill="rgb(120,120,120)"/><rect x="501.55" y="360.9" width="3.35" height="4.5" fill="rgb(0,0,0)"/><rect x="506.09" y="360.9" width="1.79" height="4.5" fill="rgb(0,0,0)"/><rect x="509.08" y="360.9" width="1.44" height="4.5" fill="rgb(0,0,0)"/><rect x="512.07" y="360.9" width="1.20" height="4.5" fill="rgb(0,0,0)"/><rect x="514.46" y="360.9" width="1.56" height="4.5" fill="rgb(0,0,0)"/><rect x="516.02" y="360.9" width="0.48" height="4.5" fill="rgb(130,130,130)"/><rect x="516.50" y="360.9" width="1.56" height="4.5" fill="rgb(0,0,0)"/><rect x="518.05" y="360.9" width="1.20" height="4.5" fill="rgb(200,200,200)"/><rect x="519.25" y="360.9" width="1.56" height="4.5" fill="rgb(0,0,0)"/><rect x="524.63" y="360.9" width="1.20" height="4.5" fill="rgb(60,60,60)"/><rect x="525.83" y="360.9" width="0.60" height="4.5" fill="rgb(150,150,150)"/><rect x="526.43" y="360.9" width="1.20" height="4.5" fill="rgb(50,50,50)"/><rect x="527.62" y="360.9" width="1.20" height="4.5" fill="rgb(90,90,90)"/><rect x="528.82" y="360.9" width="1.79" height="4.5" fill="rgb(200,200,200)"/><rect x="530.61" y="360.9" width="3.59" height="4.5" fill="rgb(0,0,0)"/><rect x="534.20" y="360.9" width="1.79" height="4.5" fill="rgb(190,190,190)"/><rect x="536.00" y="360.9" width="1.56" height="4.5" fill="rgb(70,70,70)"/><rect x="539.58" y="360.9" width="2.75" height="4.5" fill="rgb(0,0,0)"/><rect x="542.33" y="360.9" width="0.48" height="4.5" fill="rgb(120,120,120)"/><rect x="542.81" y="360.9" width="9.21" height="4.5" fill="rgb(0,0,0)"/><rect x="552" y="360.9" width="104" height="4.5" fill="#2a2a2a"/><rect x="552" y="360.9" width="19.2" height="4.5" fill="#000"/><rect x="571.8" y="360.9" width="31" height="4.5" fill="#000"/><rect x="603.4" y="360.9" width="24.4" height="4.5" fill="#000"/><rect x="628.4" y="360.9" width="25.6" height="4.5" fill="#000"/><rect x="654.4" y="360.9" width="1.8" height="4.5" fill="#333"/><rect x="656.8" y="360.9" width="3.9" height="4.5" fill="#000"/>
<path d="M476.2,341.4 L484.6,341.2 L488.5,340.6 L492.4,341.2 L496.9,340.3 L499.7,339.2 L503.1,338.6 L505.9,337.5 L507.0,334.2 L507.9,333.0 L509.2,334.7 L511.5,335.5 L514.8,334.7 L518.2,333.6 L521.6,332.3 L524.9,330.8 L527.7,328.6 L530.0,326.9 L531.1,322.4 L532.2,316.8 L533.7,313.4 L535.6,312.1 L538.4,312.9 L541.2,312.9 L542.9,316.2 L543.4,317.4 L545.6,319.6 L547.9,320.4 L549.0,317.9 L550.1,307.8 L551.3,301.1 L552.4,296.6 L553.5,296.0 L555.0,298.9 L556.1,300.9 L557.4,296.6 L558.5,293.8 L559.9,292.7 L561.4,295.5 L562.5,296.6 L563.9,294.4 L565.5,282.1 L567.0,276.5 L568.6,275.4 L570.3,277.1 L571.8,283.3 L573.1,300.0 L574.2,310.1 L575.9,309.5 L577.6,304.4 L578.7,296.6 L580.4,277.7 L581.5,268.7 L582.6,267.6 L585.5,267.6 L586.4,272.1 L587.5,281.0 L588.2,272.1 L589.4,259.7 L591.0,256.4 L592.4,253.6 L593.3,251.9 L594.4,254.1 L596.1,258.0 L597.2,260.3 L598.3,254.7 L599.2,252.4 L600.0,256.4 L600.8,260.8 L601.5,272.1 L602.3,284.4 L603.2,277.7 L604.3,263.1 L605.4,251.9 L606.5,246.5 L607.9,247.9 L610.8,251.9 L613.1,254.1 L614.2,260.8 L615.1,269.8 L615.9,277.1 L617.5,275.4 L619.2,273.2 L620.4,269.8 L621.5,265.3 L622.6,262.0 L624.3,261.4 L626.0,260.3 L627.1,262.5 L628.2,257.5 L629.0,255.8 L629.9,262.0 L630.8,266.4 L631.6,259.7 L632.3,255.2 L633.2,260.8 L634.1,264.2 L635.3,262.0 L636.4,260.8 L637.2,265.3 L638.0,269.2 L638.8,266.4 L640.0,262.0 L641.6,256.4 L643.3,252.4 L645.4,254.1 L646.7,251.3 L648.9,249.6 L650.6,246.3 L652.3,245.4 L658.5,245.4 L659.6,249.6 L660.7,252.4" fill="none" stroke="#111" stroke-width="0.85" stroke-linejoin="round" stroke-linecap="butt"/>
<path d="M476.2,359.4 L531.7,359.4 L533.3,357.1 L535.6,354.3 L537.3,355.1 L540.1,355.1 L542.3,356.6 L538.4,355.5 L541.7,356.0 L544.5,357.4 L546.8,358.3 L549.0,356.0 L550.1,349.3 L551.3,338.1 L552.4,329.7 L553.8,332.5 L555.0,338.1 L556.1,343.1 L557.2,335.8 L558.3,329.1 L559.7,326.9 L560.6,333.6 L561.7,339.8 L563.0,334.7 L564.1,319.0 L565.3,304.4 L566.4,281.0 L567.7,276.0 L569.2,274.9 L570.6,276.5 L571.8,282.1 L573.1,313.4 L574.0,341.4 L574.6,352.4 L575.9,349.9 L578.5,346.5 L579.1,324.6 L579.6,302.2 L580.4,266.4 L581.5,251.9 L582.6,248.5 L584.3,248.5 L585.7,251.9 L586.6,260.8 L587.1,278.8 L587.5,300.5 L588.1,283.3 L588.6,260.8 L589.4,229.4 L591.6,225.5 L593.3,222.2 L595.0,224.4 L596.7,227.2 L598.7,223.8 L600.2,226.7 L601.1,238.4 L601.9,266.4 L602.5,317.4 L603.2,283.3 L604.0,260.8 L605.1,232.8 L606.2,222.5 L606.7,222.5 L610.8,222.5 L611.9,223.6 L613.6,222.5 L614.4,238.4 L615.1,260.8 L615.9,278.8 L617.0,280.5 L618.7,279.3 L620.0,272.1 L621.1,255.2 L622.2,240.7 L623.4,232.8 L624.8,232.6 L626.0,235.1 L626.7,238.4 L627.6,229.4 L628.5,222.5 L629.3,232.8 L630.4,253.0 L631.6,238.4 L632.3,222.5 L633.2,232.8 L634.1,244.0 L635.3,238.4 L636.4,231.7 L637.2,244.0 L638.0,256.4 L638.8,244.0 L639.7,235.1 L641.1,229.4 L642.8,224.4 L644.5,222.9 L646.7,222.2 L658.5,222.2 L660.1,224.7" fill="none" stroke="#df536b" stroke-width="0.85" stroke-linejoin="round" stroke-linecap="butt"/>
<path d="M469.5,216.7 V365.4 H667.7 V216.7" fill="none" stroke="#5a5a5a" stroke-width="1.05"/>
<line x1="468.975" y1="216.7" x2="668.225" y2="216.7" stroke="#777" stroke-width="1.35"/>
<line x1="464.8" y1="359.5" x2="469.5" y2="359.5" stroke="#666" stroke-width="1"/>
<text x="462.5" y="362.2" class="tk" font-size="8.3" text-anchor="end" fill="#111">0.0</text>
<line x1="464.8" y1="332.1" x2="469.5" y2="332.1" stroke="#666" stroke-width="1"/>
<text x="462.5" y="334.8" class="tk" font-size="8.3" text-anchor="end" fill="#111">0.2</text>
<line x1="464.8" y1="304.7" x2="469.5" y2="304.7" stroke="#666" stroke-width="1"/>
<text x="462.5" y="307.4" class="tk" font-size="8.3" text-anchor="end" fill="#111">0.4</text>
<line x1="464.8" y1="277.2" x2="469.5" y2="277.2" stroke="#666" stroke-width="1"/>
<text x="462.5" y="279.9" class="tk" font-size="8.3" text-anchor="end" fill="#111">0.6</text>
<line x1="464.8" y1="249.8" x2="469.5" y2="249.8" stroke="#666" stroke-width="1"/>
<text x="462.5" y="252.5" class="tk" font-size="8.3" text-anchor="end" fill="#111">0.8</text>
<line x1="464.8" y1="222.4" x2="469.5" y2="222.4" stroke="#666" stroke-width="1"/>
<text x="462.5" y="225.1" class="tk" font-size="8.3" text-anchor="end" fill="#111">1.0</text>
<line x1="491.1" y1="365.4" x2="491.1" y2="369.59999999999997" stroke="#777" stroke-width="1"/>
<text x="491.1" y="378.3" class="tk" font-size="8.3" text-anchor="middle" fill="#111">2</text>
<line x1="532.2" y1="365.4" x2="532.2" y2="369.59999999999997" stroke="#777" stroke-width="1"/>
<text x="532.2" y="378.3" class="tk" font-size="8.3" text-anchor="middle" fill="#111">4</text>
<line x1="573.3" y1="365.4" x2="573.3" y2="369.59999999999997" stroke="#777" stroke-width="1"/>
<text x="573.3" y="378.3" class="tk" font-size="8.3" text-anchor="middle" fill="#111">6</text>
<line x1="614.5" y1="365.4" x2="614.5" y2="369.59999999999997" stroke="#777" stroke-width="1"/>
<text x="614.5" y="378.3" class="tk" font-size="8.3" text-anchor="middle" fill="#111">8</text>
<line x1="655.6" y1="365.4" x2="655.6" y2="369.59999999999997" stroke="#777" stroke-width="1"/>
<text x="655.6" y="378.3" class="tk" font-size="8.3" text-anchor="middle" fill="#111">10</text>
<text transform="translate(470.30,238.7) scale(0.9,1)" font-size="26.3" fill="#000" stroke="#000" stroke-width="0.3">F</text>
<path d="M20.4,415.6 V563.6 H219.2 V415.6" fill="none" stroke="#444" stroke-width="0.95"/>
<line x1="19.924999999999997" y1="415.6" x2="219.67499999999998" y2="415.6" stroke="#444" stroke-width="0.95"/>
<line x1="15.7" y1="558.5" x2="20.4" y2="558.5" stroke="#666" stroke-width="1"/>
<text x="13.4" y="561.2" class="tk" font-size="8.3" text-anchor="end" fill="#111">0.0</text>
<line x1="15.7" y1="531.0" x2="20.4" y2="531.0" stroke="#666" stroke-width="1"/>
<text x="13.4" y="533.7" class="tk" font-size="8.3" text-anchor="end" fill="#111">0.2</text>
<line x1="15.7" y1="503.4" x2="20.4" y2="503.4" stroke="#666" stroke-width="1"/>
<text x="13.4" y="506.1" class="tk" font-size="8.3" text-anchor="end" fill="#111">0.4</text>
<line x1="15.7" y1="475.9" x2="20.4" y2="475.9" stroke="#666" stroke-width="1"/>
<text x="13.4" y="478.6" class="tk" font-size="8.3" text-anchor="end" fill="#111">0.6</text>
<line x1="15.7" y1="448.3" x2="20.4" y2="448.3" stroke="#666" stroke-width="1"/>
<text x="13.4" y="451.0" class="tk" font-size="8.3" text-anchor="end" fill="#111">0.8</text>
<line x1="15.7" y1="420.8" x2="20.4" y2="420.8" stroke="#666" stroke-width="1"/>
<text x="13.4" y="423.5" class="tk" font-size="8.3" text-anchor="end" fill="#111">1.0</text>
<line x1="37.00" y1="563.6" x2="37.00" y2="568.0" stroke="#4a4a4a" stroke-width="1"/>
<line x1="55.45" y1="563.6" x2="55.45" y2="568.0" stroke="#4a4a4a" stroke-width="1"/>
<line x1="73.90" y1="563.6" x2="73.90" y2="568.0" stroke="#4a4a4a" stroke-width="1"/>
<line x1="92.35" y1="563.6" x2="92.35" y2="568.0" stroke="#4a4a4a" stroke-width="1"/>
<line x1="110.80" y1="563.6" x2="110.80" y2="568.0" stroke="#4a4a4a" stroke-width="1"/>
<line x1="129.25" y1="563.6" x2="129.25" y2="568.0" stroke="#4a4a4a" stroke-width="1"/>
<line x1="147.70" y1="563.6" x2="147.70" y2="568.0" stroke="#4a4a4a" stroke-width="1"/>
<line x1="166.15" y1="563.6" x2="166.15" y2="568.0" stroke="#4a4a4a" stroke-width="1"/>
<line x1="184.60" y1="563.6" x2="184.60" y2="568.0" stroke="#4a4a4a" stroke-width="1"/>
<line x1="203.05" y1="563.6" x2="203.05" y2="568.0" stroke="#4a4a4a" stroke-width="1"/>
<text transform="translate(21.30,437.6) scale(0.95,1)" font-size="26.3" fill="#000" stroke="#000" stroke-width="0.3">G</text>
<rect x="251.29" y="559.1" width="1.64" height="4.5" fill="rgb(0,0,0)"/><rect x="252.93" y="559.1" width="1.64" height="4.5" fill="rgb(120,120,120)"/><rect x="254.58" y="559.1" width="1.97" height="4.5" fill="rgb(185,185,185)"/><rect x="256.88" y="559.1" width="0.99" height="4.5" fill="rgb(20,20,20)"/><rect x="257.87" y="559.1" width="1.97" height="4.5" fill="rgb(150,150,150)"/><rect x="259.84" y="559.1" width="0.99" height="4.5" fill="rgb(20,20,20)"/><rect x="260.83" y="559.1" width="2.30" height="4.5" fill="rgb(110,110,110)"/><rect x="263.13" y="559.1" width="2.63" height="4.5" fill="rgb(140,140,140)"/><rect x="265.76" y="559.1" width="1.97" height="4.5" fill="rgb(170,170,170)"/><rect x="269.05" y="559.1" width="1.64" height="4.5" fill="rgb(200,200,200)"/><rect x="270.70" y="559.1" width="0.46" height="4.5" fill="rgb(150,150,150)"/><rect x="271.55" y="559.1" width="0.46" height="4.5" fill="rgb(170,170,170)"/><rect x="272.01" y="559.1" width="1.32" height="4.5" fill="rgb(120,120,120)"/><rect x="276.95" y="559.1" width="0.99" height="4.5" fill="rgb(170,170,170)"/><rect x="278.26" y="559.1" width="0.66" height="4.5" fill="rgb(190,190,190)"/><rect x="280.89" y="559.1" width="0.53" height="4.5" fill="rgb(170,170,170)"/><rect x="281.68" y="559.1" width="0.53" height="4.5" fill="rgb(190,190,190)"/><rect x="283.86" y="559.1" width="0.99" height="4.5" fill="rgb(150,150,150)"/><rect x="284.84" y="559.1" width="7.17" height="4.5" fill="rgb(0,0,0)"/><rect x="291.9" y="559.1" width="81" height="4.5" fill="#000"/><rect x="372.00" y="559.1" width="1.94" height="4.5" fill="rgb(0,0,0)"/><rect x="374.26" y="559.1" width="2.58" height="4.5" fill="rgb(0,0,0)"/><rect x="377.17" y="559.1" width="1.51" height="4.5" fill="rgb(10,10,10)"/><rect x="379.00" y="559.1" width="1.40" height="4.5" fill="rgb(0,0,0)"/><rect x="380.72" y="559.1" width="1.51" height="4.5" fill="rgb(20,20,20)"/><rect x="383.84" y="559.1" width="2.15" height="4.5" fill="rgb(60,60,60)"/><rect x="386.32" y="559.1" width="1.29" height="4.5" fill="rgb(20,20,20)"/><rect x="387.93" y="559.1" width="1.83" height="4.5" fill="rgb(50,50,50)"/><rect x="390.30" y="559.1" width="1.94" height="4.5" fill="rgb(170,170,170)"/><rect x="392.45" y="559.1" width="1.61" height="4.5" fill="rgb(70,70,70)"/><rect x="394.39" y="559.1" width="2.37" height="4.5" fill="rgb(90,90,90)"/><rect x="396.97" y="559.1" width="1.40" height="4.5" fill="rgb(30,30,30)"/><rect x="398.70" y="559.1" width="1.51" height="4.5" fill="rgb(70,70,70)"/><rect x="400.53" y="559.1" width="1.61" height="4.5" fill="rgb(20,20,20)"/><rect x="402.46" y="559.1" width="1.61" height="4.5" fill="rgb(60,60,60)"/><rect x="404.29" y="559.1" width="3.23" height="4.5" fill="rgb(20,20,20)"/><rect x="407.74" y="559.1" width="3.01" height="4.5" fill="rgb(0,0,0)"/><rect x="410.97" y="559.1" width="2.48" height="4.5" fill="rgb(30,30,30)"/><rect x="415.06" y="559.1" width="2.69" height="4.5" fill="rgb(150,150,150)"/><rect x="418.07" y="559.1" width="2.37" height="4.5" fill="rgb(130,130,130)"/><rect x="422.81" y="559.1" width="0.86" height="4.5" fill="rgb(140,140,140)"/><rect x="424.31" y="559.1" width="1.08" height="4.5" fill="rgb(150,150,150)"/><rect x="434.97" y="559.1" width="0.75" height="4.5" fill="rgb(150,150,150)"/>
<path d="M251.7,485.1 L280.3,485.1 L283.5,484.6 L285.1,482.3 L286.0,472.2 L286.9,458.2 L288.6,453.1 L290.5,449.9 L292.8,449.3 L294.3,451.2 L295.6,456.9 L296.6,461.8 L298.1,462.0 L299.4,460.1 L300.6,462.0 L301.9,467.1 L302.9,467.7 L304.2,464.6 L305.5,458.8 L307.0,458.2 L308.3,455.0 L309.5,452.5 L310.6,456.9 L311.8,463.3 L313.1,463.9 L313.6,472.2 L314.1,491.2 L314.6,505.4 L315.9,528.3 L316.9,535.9 L318.4,532.1 L320.3,532.7 L322.2,533.1 L323.5,528.3 L324.5,521.9 L325.4,525.1 L326.3,527.0 L327.3,519.4 L328.2,516.9 L329.0,523.2 L329.9,534.6 L331.1,537.2 L333.3,537.2 L334.3,533.4 L335.6,526.4 L336.6,530.8 L338.1,534.6 L340.0,536.5 L341.3,535.9 L342.9,533.4 L344.2,535.9 L345.7,535.9 L347.6,534.9 L349.6,534.4 L350.6,535.3 L351.5,524.5 L352.5,514.9 L353.4,520.7 L354.4,527.0 L355.6,523.8 L356.5,530.8 L357.8,539.7 L359.1,537.2 L360.4,535.3 L362.0,535.3 L363.3,537.8 L364.8,539.7 L366.1,539.1 L367.1,534.6 L367.7,530.8 L368.6,535.9 L369.5,539.7 L371.4,541.0 L375.2,541.5 L378.4,541.4 L379.3,537.8 L380.3,535.6 L381.4,538.5 L382.6,540.4 L385.4,540.4 L386.7,539.3 L387.9,539.3 L389.9,541.0 L391.8,541.5 L413.4,541.5 L414.6,539.7 L415.6,534.6 L416.5,530.2 L417.4,528.5 L419.1,529.3 L421.0,530.4 L436.0,530.4" fill="none" stroke="#111" stroke-width="0.85" stroke-linejoin="round" stroke-linecap="butt"/>
<path d="M251.7,425.2 L284.8,425.2 L286.0,423.3 L286.9,421.0 L289.2,420.3 L299.4,420.3 L301.3,421.4 L303.2,422.4 L305.7,422.4 L307.6,420.7 L310.8,420.3 L312.7,421.6 L313.3,425.2 L313.6,440.4 L314.0,465.8 L314.6,499.1 L315.5,524.5 L316.3,541.0 L317.1,555.0 L318.4,551.8 L319.7,551.2 L321.0,552.4 L322.6,552.4 L323.5,541.0 L324.5,520.7 L325.4,525.7 L326.3,534.6 L327.3,511.8 L328.2,494.0 L329.0,518.1 L329.9,543.5 L330.8,557.5 L333.3,558.1 L334.3,546.1 L335.3,530.8 L336.2,538.5 L337.5,551.2 L339.4,556.2 L341.3,556.9 L342.6,551.8 L343.2,551.2 L344.2,556.2 L345.7,557.5 L347.6,556.2 L349.3,555.0 L350.2,556.2 L350.8,543.5 L351.5,518.1 L352.1,495.2 L352.6,483.2 L353.1,499.1 L354.0,518.1 L354.9,530.8 L355.6,522.6 L356.5,530.8 L357.4,546.1 L358.4,557.5 L359.7,553.7 L361.2,552.4 L362.5,555.0 L363.5,557.5 L365.1,557.8 L365.8,543.5 L366.7,524.5 L367.3,513.7 L368.1,530.8 L368.9,551.2 L369.6,558.1 L371.4,558.1 L376.5,558.1 L378.4,556.9 L380.1,555.2 L381.6,557.3 L382.9,558.1 L385.4,557.8 L387.3,556.9 L389.2,557.8 L391.8,558.1 L412.1,558.1 L414.0,556.9 L415.3,552.4 L416.2,541.0 L416.9,533.4 L417.8,532.1 L419.1,534.0 L420.4,538.5 L421.6,540.4 L436.0,540.4" fill="none" stroke="#df536b" stroke-width="0.85" stroke-linejoin="round" stroke-linecap="butt"/>
<path d="M244.5,415.6 V563.6 H443.4 V415.6" fill="none" stroke="#444" stroke-width="0.95"/>
<line x1="244.025" y1="415.6" x2="443.875" y2="415.6" stroke="#444" stroke-width="0.95"/>
<line x1="239.8" y1="558.5" x2="244.5" y2="558.5" stroke="#666" stroke-width="1"/>
<text x="237.5" y="561.2" class="tk" font-size="8.3" text-anchor="end" fill="#111">0.0</text>
<line x1="239.8" y1="531.0" x2="244.5" y2="531.0" stroke="#666" stroke-width="1"/>
<text x="237.5" y="533.7" class="tk" font-size="8.3" text-anchor="end" fill="#111">0.2</text>
<line x1="239.8" y1="503.4" x2="244.5" y2="503.4" stroke="#666" stroke-width="1"/>
<text x="237.5" y="506.1" class="tk" font-size="8.3" text-anchor="end" fill="#111">0.4</text>
<line x1="239.8" y1="475.9" x2="244.5" y2="475.9" stroke="#666" stroke-width="1"/>
<text x="237.5" y="478.6" class="tk" font-size="8.3" text-anchor="end" fill="#111">0.6</text>
<line x1="239.8" y1="448.3" x2="244.5" y2="448.3" stroke="#666" stroke-width="1"/>
<text x="237.5" y="451.0" class="tk" font-size="8.3" text-anchor="end" fill="#111">0.8</text>
<line x1="239.8" y1="420.8" x2="244.5" y2="420.8" stroke="#666" stroke-width="1"/>
<text x="237.5" y="423.5" class="tk" font-size="8.3" text-anchor="end" fill="#111">1.0</text>
<line x1="267.4" y1="563.6" x2="267.4" y2="567.8000000000001" stroke="#777" stroke-width="1"/>
<text x="267.4" y="576.5" class="tk" font-size="8.3" text-anchor="middle" fill="#111">2.0</text>
<line x1="315.5" y1="563.6" x2="315.5" y2="567.8000000000001" stroke="#777" stroke-width="1"/>
<text x="315.5" y="576.5" class="tk" font-size="8.3" text-anchor="middle" fill="#111">2.5</text>
<line x1="363.6" y1="563.6" x2="363.6" y2="567.8000000000001" stroke="#777" stroke-width="1"/>
<text x="363.6" y="576.5" class="tk" font-size="8.3" text-anchor="middle" fill="#111">3.0</text>
<line x1="411.7" y1="563.6" x2="411.7" y2="567.8000000000001" stroke="#777" stroke-width="1"/>
<text x="411.7" y="576.5" class="tk" font-size="8.3" text-anchor="middle" fill="#111">3.5</text>
<text transform="translate(246.00,437.6) scale(0.96,1)" font-size="26.3" fill="#000" stroke="#000" stroke-width="0.3">H</text>
<rect x="476.55" y="559.1" width="1.67" height="4.5" fill="rgb(0,0,0)"/><rect x="482.17" y="559.1" width="1.20" height="4.5" fill="rgb(100,100,100)"/><rect x="483.36" y="559.1" width="1.20" height="4.5" fill="rgb(200,200,200)"/><rect x="484.56" y="559.1" width="1.56" height="4.5" fill="rgb(30,30,30)"/><rect x="486.11" y="559.1" width="0.48" height="4.5" fill="rgb(150,150,150)"/><rect x="486.59" y="559.1" width="1.56" height="4.5" fill="rgb(30,30,30)"/><rect x="488.15" y="559.1" width="1.79" height="4.5" fill="rgb(185,185,185)"/><rect x="489.94" y="559.1" width="0.96" height="4.5" fill="rgb(40,40,40)"/><rect x="490.90" y="559.1" width="0.60" height="4.5" fill="rgb(150,150,150)"/><rect x="491.50" y="559.1" width="0.84" height="4.5" fill="rgb(60,60,60)"/><rect x="495.33" y="559.1" width="2.15" height="4.5" fill="rgb(0,0,0)"/><rect x="497.48" y="559.1" width="0.48" height="4.5" fill="rgb(120,120,120)"/><rect x="497.96" y="559.1" width="3.11" height="4.5" fill="rgb(0,0,0)"/><rect x="501.07" y="559.1" width="0.48" height="4.5" fill="rgb(120,120,120)"/><rect x="501.55" y="559.1" width="3.35" height="4.5" fill="rgb(0,0,0)"/><rect x="506.09" y="559.1" width="1.79" height="4.5" fill="rgb(0,0,0)"/><rect x="509.08" y="559.1" width="1.44" height="4.5" fill="rgb(0,0,0)"/><rect x="512.07" y="559.1" width="1.20" height="4.5" fill="rgb(0,0,0)"/><rect x="514.46" y="559.1" width="1.56" height="4.5" fill="rgb(0,0,0)"/><rect x="516.02" y="559.1" width="0.48" height="4.5" fill="rgb(130,130,130)"/><rect x="516.50" y="559.1" width="1.56" height="4.5" fill="rgb(0,0,0)"/><rect x="518.05" y="559.1" width="1.20" height="4.5" fill="rgb(200,200,200)"/><rect x="519.25" y="559.1" width="1.56" height="4.5" fill="rgb(0,0,0)"/><rect x="524.63" y="559.1" width="1.20" height="4.5" fill="rgb(60,60,60)"/><rect x="525.83" y="559.1" width="0.60" height="4.5" fill="rgb(150,150,150)"/><rect x="526.43" y="559.1" width="1.20" height="4.5" fill="rgb(50,50,50)"/><rect x="527.62" y="559.1" width="1.20" height="4.5" fill="rgb(90,90,90)"/><rect x="528.82" y="559.1" width="1.79" height="4.5" fill="rgb(200,200,200)"/><rect x="530.61" y="559.1" width="3.59" height="4.5" fill="rgb(0,0,0)"/><rect x="534.20" y="559.1" width="1.79" height="4.5" fill="rgb(190,190,190)"/><rect x="536.00" y="559.1" width="1.56" height="4.5" fill="rgb(70,70,70)"/><rect x="539.58" y="559.1" width="2.75" height="4.5" fill="rgb(0,0,0)"/><rect x="542.33" y="559.1" width="0.48" height="4.5" fill="rgb(120,120,120)"/><rect x="542.81" y="559.1" width="9.21" height="4.5" fill="rgb(0,0,0)"/><rect x="552" y="559.1" width="104" height="4.5" fill="#2a2a2a"/><rect x="552" y="559.1" width="19.2" height="4.5" fill="#000"/><rect x="571.8" y="559.1" width="31" height="4.5" fill="#000"/><rect x="603.4" y="559.1" width="24.4" height="4.5" fill="#000"/><rect x="628.4" y="559.1" width="25.6" height="4.5" fill="#000"/><rect x="654.4" y="559.1" width="1.8" height="4.5" fill="#333"/><rect x="656.8" y="559.1" width="3.9" height="4.5" fill="#000"/>
<path d="M476.7,537.7 L536.0,537.7 L540.0,535.7 L544.3,537.7 L556.0,537.0 L556.5,537.2 L560.3,537.4 L564.1,536.9 L565.4,535.3 L566.7,534.3 L568.2,535.3 L569.9,536.5 L571.5,537.4 L572.4,533.4 L573.3,528.3 L574.0,532.1 L574.9,535.6 L576.2,535.9 L577.5,534.9 L578.5,532.1 L579.4,525.7 L580.3,518.8 L581.0,516.9 L581.9,520.7 L583.0,525.1 L583.8,523.8 L585.1,519.4 L586.4,517.1 L587.3,521.9 L588.3,528.3 L589.6,532.1 L590.8,533.1 L592.1,531.5 L593.4,527.0 L594.6,523.8 L595.9,523.2 L596.9,525.7 L598.2,528.9 L599.7,530.8 L601.6,532.1 L603.5,532.1 L604.8,530.2 L605.8,524.5 L606.8,518.8 L608.0,516.6 L609.2,516.9 L610.1,521.9 L611.2,527.6 L612.4,530.8 L613.7,534.0 L615.0,535.9 L616.9,536.3 L617.1,536.2 L618.3,532.5 L619.3,526.4 L620.1,522.1 L621.4,523.0 L622.6,522.7 L623.4,521.5 L624.4,526.4 L625.4,531.9 L626.9,531.3 L628.7,531.9 L629.9,534.3 L631.5,538.4 L633.0,540.1 L634.2,538.0 L635.4,533.7 L636.6,530.1 L637.6,533.7 L638.5,536.8 L639.3,531.3 L640.5,524.0 L641.8,519.1 L642.7,517.2 L643.7,524.0 L644.7,529.5 L645.8,530.1 L647.0,526.4 L648.0,520.3 L648.8,504.4 L649.5,487.9 L649.5,487.5 L651.3,486.9 L652.8,484.5 L653.7,479.6 L654.7,472.3 L655.6,468.4 L656.8,472.9 L657.4,464.9 L658.0,452.7 L658.6,438.1 L659.2,429.5 L660.4,428.3 L661.0,428.1" fill="none" stroke="#111" stroke-width="0.85" stroke-linejoin="round" stroke-linecap="butt"/>
<path d="M476.7,557.3 L536.0,557.3 L540.0,555.7 L544.3,557.3 L556.0,557.3 L556.5,556.9 L563.5,556.9 L564.8,555.6 L566.0,553.1 L567.7,553.7 L569.5,555.6 L571.1,556.9 L572.0,546.1 L572.8,533.4 L573.4,528.9 L574.0,537.2 L574.9,546.1 L576.2,553.1 L577.5,552.4 L578.4,546.1 L579.1,530.8 L579.8,511.8 L580.4,492.7 L580.9,486.4 L581.7,492.7 L582.3,511.8 L583.0,520.7 L583.8,518.1 L584.7,509.2 L585.5,496.5 L586.4,491.4 L587.0,505.4 L588.0,530.8 L588.9,543.5 L589.8,551.2 L590.8,553.7 L591.8,548.6 L592.7,537.2 L593.6,524.5 L594.6,516.9 L595.6,514.3 L596.5,519.4 L597.4,530.8 L598.7,538.5 L600.0,544.8 L601.2,549.9 L602.5,551.2 L603.5,546.1 L604.5,530.8 L605.4,511.8 L606.3,496.5 L607.3,492.1 L608.6,489.1 L609.6,495.2 L610.5,518.1 L611.4,533.4 L612.4,543.5 L613.7,552.4 L615.0,556.9 L616.2,558.1 L615.6,558.1 L617.1,557.5 L618.1,550.8 L618.9,532.5 L619.5,514.2 L620.1,501.4 L620.8,508.1 L621.7,520.3 L622.6,510.5 L623.2,505.0 L623.9,513.0 L624.7,532.5 L625.4,553.3 L625.9,554.5 L626.9,547.2 L628.1,550.8 L629.9,555.7 L631.5,558.1 L633.2,558.1 L634.4,554.5 L635.6,545.9 L636.6,536.2 L637.2,539.8 L638.1,558.1 L638.8,548.4 L639.7,528.8 L640.5,510.5 L641.5,500.8 L642.4,492.8 L643.0,504.4 L643.7,520.3 L644.6,531.3 L645.8,534.7 L647.0,528.8 L647.9,514.2 L648.6,492.2 L649.1,446.6 L649.5,431.0 L651.3,430.1 L653.1,427.1 L655.0,424.4 L655.9,423.7 L657.1,427.1 L658.4,422.8 L659.6,421.2 L660.8,421.0" fill="none" stroke="#df536b" stroke-width="0.85" stroke-linejoin="round" stroke-linecap="butt"/>
<path d="M469.5,415.6 V563.6 H668.3 V415.6" fill="none" stroke="#444" stroke-width="0.95"/>
<line x1="469.025" y1="415.6" x2="668.775" y2="415.6" stroke="#444" stroke-width="0.95"/>
<line x1="464.8" y1="558.5" x2="469.5" y2="558.5" stroke="#666" stroke-width="1"/>
<text x="462.5" y="561.2" class="tk" font-size="8.3" text-anchor="end" fill="#111">0.0</text>
<line x1="464.8" y1="531.0" x2="469.5" y2="531.0" stroke="#666" stroke-width="1"/>
<text x="462.5" y="533.7" class="tk" font-size="8.3" text-anchor="end" fill="#111">0.2</text>
<line x1="464.8" y1="503.4" x2="469.5" y2="503.4" stroke="#666" stroke-width="1"/>
<text x="462.5" y="506.1" class="tk" font-size="8.3" text-anchor="end" fill="#111">0.4</text>
<line x1="464.8" y1="475.9" x2="469.5" y2="475.9" stroke="#666" stroke-width="1"/>
<text x="462.5" y="478.6" class="tk" font-size="8.3" text-anchor="end" fill="#111">0.6</text>
<line x1="464.8" y1="448.3" x2="469.5" y2="448.3" stroke="#666" stroke-width="1"/>
<text x="462.5" y="451.0" class="tk" font-size="8.3" text-anchor="end" fill="#111">0.8</text>
<line x1="464.8" y1="420.8" x2="469.5" y2="420.8" stroke="#666" stroke-width="1"/>
<text x="462.5" y="423.5" class="tk" font-size="8.3" text-anchor="end" fill="#111">1.0</text>
<line x1="491.1" y1="563.6" x2="491.1" y2="567.8000000000001" stroke="#777" stroke-width="1"/>
<text x="491.1" y="576.5" class="tk" font-size="8.3" text-anchor="middle" fill="#111">2</text>
<line x1="532.2" y1="563.6" x2="532.2" y2="567.8000000000001" stroke="#777" stroke-width="1"/>
<text x="532.2" y="576.5" class="tk" font-size="8.3" text-anchor="middle" fill="#111">4</text>
<line x1="573.3" y1="563.6" x2="573.3" y2="567.8000000000001" stroke="#777" stroke-width="1"/>
<text x="573.3" y="576.5" class="tk" font-size="8.3" text-anchor="middle" fill="#111">6</text>
<line x1="614.5" y1="563.6" x2="614.5" y2="567.8000000000001" stroke="#777" stroke-width="1"/>
<text x="614.5" y="576.5" class="tk" font-size="8.3" text-anchor="middle" fill="#111">8</text>
<line x1="655.6" y1="563.6" x2="655.6" y2="567.8000000000001" stroke="#777" stroke-width="1"/>
<text x="655.6" y="576.5" class="tk" font-size="8.3" text-anchor="middle" fill="#111">10</text>
<path d="M471.8,418.9 h8.1 v1.9 h-2.6 v15 h2.6 v1.9 h-8.1 v-1.9 h2.6 v-15 h-2.6 z" fill="#000"/>
<circle cx="37.6" cy="107" r="1.55" fill="none" stroke="#111" stroke-width="0.85"/>
<circle cx="37.6" cy="162.7" r="1.55" fill="none" stroke="#df536b" stroke-width="0.85"/>
<circle cx="56.0" cy="44.7" r="1.55" fill="none" stroke="#111" stroke-width="0.85"/>
<circle cx="56.0" cy="25.2" r="1.55" fill="none" stroke="#df536b" stroke-width="0.85"/>
<circle cx="74.5" cy="78.3" r="1.55" fill="none" stroke="#111" stroke-width="0.85"/>
<circle cx="74.5" cy="145.6" r="1.55" fill="none" stroke="#df536b" stroke-width="0.85"/>
<circle cx="92.9" cy="53.7" r="1.55" fill="none" stroke="#111" stroke-width="0.85"/>
<circle cx="92.9" cy="25.2" r="1.55" fill="none" stroke="#df536b" stroke-width="0.85"/>
<circle cx="111.4" cy="80" r="1.55" fill="none" stroke="#111" stroke-width="0.85"/>
<circle cx="111.4" cy="145.6" r="1.55" fill="none" stroke="#df536b" stroke-width="0.85"/>
<circle cx="129.8" cy="63" r="1.55" fill="none" stroke="#111" stroke-width="0.85"/>
<circle cx="129.8" cy="76.7" r="1.55" fill="none" stroke="#df536b" stroke-width="0.85"/>
<circle cx="148.3" cy="81.3" r="1.55" fill="none" stroke="#111" stroke-width="0.85"/>
<circle cx="148.3" cy="111" r="1.55" fill="none" stroke="#df536b" stroke-width="0.85"/>
<circle cx="166.8" cy="52" r="1.55" fill="none" stroke="#111" stroke-width="0.85"/>
<circle cx="166.8" cy="25.2" r="1.55" fill="none" stroke="#df536b" stroke-width="0.85"/>
<circle cx="185.2" cy="54.7" r="1.55" fill="none" stroke="#111" stroke-width="0.85"/>
<circle cx="185.2" cy="42.4" r="1.55" fill="none" stroke="#df536b" stroke-width="0.85"/>
<circle cx="203.6" cy="44" r="1.55" fill="none" stroke="#111" stroke-width="0.85"/>
<circle cx="203.6" cy="25.2" r="1.55" fill="none" stroke="#df536b" stroke-width="0.85"/>
<circle cx="36.5" cy="287" r="1.55" fill="none" stroke="#111" stroke-width="0.85"/>
<circle cx="36.5" cy="307.7" r="1.55" fill="none" stroke="#df536b" stroke-width="0.85"/>
<circle cx="55.0" cy="248" r="1.55" fill="none" stroke="#111" stroke-width="0.85"/>
<circle cx="55.0" cy="222.6" r="1.55" fill="none" stroke="#df536b" stroke-width="0.85"/>
<circle cx="73.4" cy="282.7" r="1.55" fill="none" stroke="#111" stroke-width="0.85"/>
<circle cx="73.4" cy="303.7" r="1.55" fill="none" stroke="#df536b" stroke-width="0.85"/>
<circle cx="91.8" cy="261" r="1.55" fill="none" stroke="#111" stroke-width="0.85"/>
<circle cx="91.8" cy="226.7" r="1.55" fill="none" stroke="#df536b" stroke-width="0.85"/>
<circle cx="110.3" cy="282.3" r="1.55" fill="none" stroke="#111" stroke-width="0.85"/>
<circle cx="110.3" cy="296.7" r="1.55" fill="none" stroke="#df536b" stroke-width="0.85"/>
<circle cx="128.8" cy="313.3" r="1.55" fill="none" stroke="#111" stroke-width="0.85"/>
<circle cx="128.8" cy="359.7" r="1.55" fill="none" stroke="#df536b" stroke-width="0.85"/>
<circle cx="147.2" cy="292.7" r="1.55" fill="none" stroke="#111" stroke-width="0.85"/>
<circle cx="147.2" cy="328.3" r="1.55" fill="none" stroke="#df536b" stroke-width="0.85"/>
<circle cx="165.7" cy="248" r="1.55" fill="none" stroke="#111" stroke-width="0.85"/>
<circle cx="165.7" cy="222.6" r="1.55" fill="none" stroke="#df536b" stroke-width="0.85"/>
<circle cx="184.1" cy="255.7" r="1.55" fill="none" stroke="#111" stroke-width="0.85"/>
<circle cx="184.1" cy="226.7" r="1.55" fill="none" stroke="#df536b" stroke-width="0.85"/>
<circle cx="202.5" cy="310.7" r="1.55" fill="none" stroke="#111" stroke-width="0.85"/>
<circle cx="202.5" cy="354.3" r="1.55" fill="none" stroke="#df536b" stroke-width="0.85"/>
<circle cx="37.0" cy="533.7" r="1.55" fill="none" stroke="#111" stroke-width="0.85"/>
<circle cx="37.0" cy="551" r="1.55" fill="none" stroke="#df536b" stroke-width="0.85"/>
<circle cx="55.5" cy="429.7" r="1.55" fill="none" stroke="#111" stroke-width="0.85"/>
<circle cx="55.5" cy="420.8" r="1.55" fill="none" stroke="#df536b" stroke-width="0.85"/>
<circle cx="73.9" cy="483" r="1.55" fill="none" stroke="#111" stroke-width="0.85"/>
<circle cx="73.9" cy="426.3" r="1.55" fill="none" stroke="#df536b" stroke-width="0.85"/>
<circle cx="92.3" cy="531.7" r="1.55" fill="none" stroke="#111" stroke-width="0.85"/>
<circle cx="92.3" cy="548.3" r="1.55" fill="none" stroke="#df536b" stroke-width="0.85"/>
<circle cx="110.8" cy="536" r="1.55" fill="none" stroke="#111" stroke-width="0.85"/>
<circle cx="110.8" cy="558.3" r="1.55" fill="none" stroke="#df536b" stroke-width="0.85"/>
<circle cx="129.2" cy="540.7" r="1.55" fill="none" stroke="#111" stroke-width="0.85"/>
<circle cx="129.2" cy="558.3" r="1.55" fill="none" stroke="#df536b" stroke-width="0.85"/>
<circle cx="147.7" cy="474" r="1.55" fill="none" stroke="#111" stroke-width="0.85"/>
<circle cx="147.7" cy="430.3" r="1.55" fill="none" stroke="#df536b" stroke-width="0.85"/>
<circle cx="166.2" cy="430.7" r="1.55" fill="none" stroke="#111" stroke-width="0.85"/>
<circle cx="166.2" cy="420.8" r="1.55" fill="none" stroke="#df536b" stroke-width="0.85"/>
<circle cx="184.6" cy="448" r="1.55" fill="none" stroke="#111" stroke-width="0.85"/>
<circle cx="184.6" cy="429" r="1.55" fill="none" stroke="#df536b" stroke-width="0.85"/>
<circle cx="203.0" cy="512.7" r="1.55" fill="none" stroke="#111" stroke-width="0.85"/>
<circle cx="203.0" cy="480.7" r="1.55" fill="none" stroke="#df536b" stroke-width="0.85"/>
<text id="t1" x="343" y="12.7" font-size="17" font-style="italic" text-anchor="middle" fill="#000" textLength="112" lengthAdjust="spacingAndGlyphs">Aedes vexans</text>
<text id="t2" x="342.7" y="207.7" font-size="17" font-style="italic" text-anchor="middle" fill="#000" textLength="203.5" lengthAdjust="spacingAndGlyphs">Culex pipiens/restuans</text>
<text id="t3" x="344" y="407.6" font-size="17.6" text-anchor="middle" fill="#000" textLength="133" lengthAdjust="spacingAndGlyphs">West Nile virus</text>
<text id="xl1" x="338.7" y="601.4" font-size="9" text-anchor="middle" fill="#111">Total daily precipitations (mm)</text>
<text id="xl2" x="575.6" y="601" font-size="9" text-anchor="middle" fill="#111">Mean daily temperature (°C)</text>
<text transform="translate(38.9,594.5) rotate(-90)" font-size="9" text-anchor="end" fill="#111">Open water</text>
<text transform="translate(57.4,594.5) rotate(-90)" font-size="9" text-anchor="end" fill="#111">Wetlands</text>
<text transform="translate(75.8,594.5) rotate(-90)" font-size="9" text-anchor="end" fill="#111">Croplands</text>
<text transform="translate(94.2,594.5) rotate(-90)" font-size="9" text-anchor="end" fill="#111">Grasslands</text>
<text transform="translate(112.7,594.5) rotate(-90)" font-size="9" text-anchor="end" fill="#111">Forested</text>
<text transform="translate(131.1,594.5) rotate(-90)" font-size="9" text-anchor="end" fill="#111">Exposed</text>
<text transform="translate(149.6,594.5) rotate(-90)" font-size="9" text-anchor="end" fill="#111">Non-vegetated residential</text>
<text transform="translate(168.1,594.5) rotate(-90)" font-size="9" text-anchor="end" fill="#111">Low green residential</text>
<text transform="translate(186.5,594.5) rotate(-90)" font-size="9" text-anchor="end" fill="#111">Medium green residential</text>
<text transform="translate(204.9,594.5) rotate(-90)" font-size="9" text-anchor="end" fill="#111">High green residential</text>
</svg>
</body></html>
